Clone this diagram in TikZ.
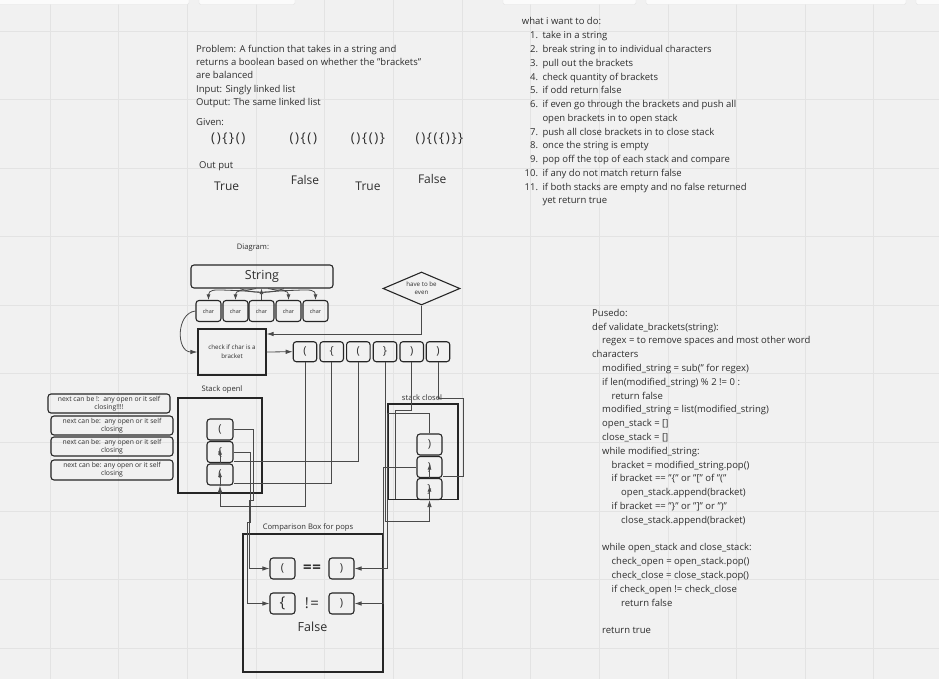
\documentclass[tikz,border=0pt]{standalone}
\usepackage{fontspec}
\setmainfont{Open Sans}
\usetikzlibrary{arrows.meta,shapes.geometric,calc}
\definecolor{bg}{HTML}{F1F1F1}
\definecolor{gridc}{HTML}{E3E3E3}
\definecolor{ink}{HTML}{2E2E2E}
\definecolor{edge}{HTML}{262626}
\definecolor{wirec}{HTML}{4A4A4A}
\newcommand\myfs[2]{\fontsize{#1}{#2}\selectfont}
\newcommand\bk{\kern1.6pt}
\begin{document}
\begin{tikzpicture}[x=1pt,y=-1pt,
  txt/.style={anchor=base west,inner sep=0,text=ink,font=\myfs{9.5}{12}},
  num/.style={anchor=base east,inner sep=0,text=ink,font=\myfs{9.5}{12}},
  lbl/.style={inner sep=0,text=ink,font=\myfs{7.6}{9}},
  big/.style={anchor=base,inner sep=0,text=ink,font=\myfs{12}{14}},
  brk/.style={anchor=base,inner sep=0,text=ink,font=\myfs{13.5}{15}},
  box/.style={draw=edge,line width=1.1pt,rounded corners=3pt,inner sep=0,text=ink},
  sq/.style={draw=edge,line width=1.1pt,inner sep=0,text=ink},
  note/.style={box,minimum width=122pt,minimum height=19pt,align=center,font=\myfs{6.8}{8}},
  wire/.style={draw=wirec,line width=0.8pt},
  arr/.style={-{Latex[length=7pt,width=4.5pt]}},
  sarr/.style={-{Latex[length=5.5pt,width=4pt]}},
]
% background and grid
\fill[bg] (0,0) rectangle (939,679);
\useasboundingbox (0,0) rectangle (939,679);
\foreach \i in {0,...,12} \draw[gridc,line width=0.7pt] ({50+68.65*\i},0) -- ++(0,679);
\foreach \j in {0,...,9} \draw[gridc,line width=0.7pt] (0,{31+68.55*\j}) -- ++(939,0);
\foreach \a/\b in {-6/189,199/295,503/636,646/906,916/960}
  \draw[draw=gridc,fill=white!75!bg,rounded corners=2pt] (\a,-8) rectangle (\b,4.5);

% problem block
\node[txt] (p1) at (196,52.3) {Problem: A function that takes in a string and};
\node[txt] (p2) at (196,65.6) {returns a boolean based on whether the "brackets"};
\node[txt] (p3) at (196,79) {are balanced};
\node[txt] (p4) at (196,92.4) {Input: Singly linked list};
\node[txt] (p5) at (196,105.8) {Output: The same linked list};
\node[txt] (p6) at (196,126) {Given:};
\node[brk] (g1) at (228.3,143) {(\bk)\bk\{\bk\}\bk(\bk)};
\node[brk] (g2) at (303.3,143) {(\bk)\bk\{\bk(\bk)};
\node[brk] (g3) at (368,143) {(\bk)\bk\{\bk(\bk)\bk\}};
\node[brk] (g4) at (439.5,143) {(\bk)\bk\{\bk(\bk\{\bk)\bk\}\bk\}};
\node[txt] (op) at (199,168.3) {Out put};
\node[big] (o1) at (226.7,190) {True};
\node[big] (o2) at (305,185) {False};
\node[big] (o3) at (368,190) {True};
\node[big] (o4) at (432.2,183.6) {False};

% what i want to do
\node[txt] (w0) at (521.7,25) {what i want to do:};
\node[num] (n1) at (538.3,39) {1.};   \node[txt] (t1) at (542.3,39) {take in a string};
\node[num] (n2) at (538.3,52.7) {2.}; \node[txt] (t2) at (542.3,52.7) {break string in to individual characters};
\node[num] (n3) at (538.3,66.5) {3.}; \node[txt] (t3) at (542.3,66.5) {pull out the brackets};
\node[num] (n4) at (538.3,80.2) {4.}; \node[txt] (t4) at (542.3,80.2) {check quantity of brackets};
\node[num] (n5) at (538.3,94) {5.};   \node[txt] (t5) at (542.3,94) {if odd return false};
\node[num] (n6) at (538.3,107.7) {6.};\node[txt] (t6) at (542.3,107.7) {if even go through the brackets and push all};
\node[txt] (t6b) at (542.3,121.5) {open brackets in to open stack};
\node[num] (n7) at (538.3,135.2) {7.};\node[txt] (t7) at (542.3,135.2) {push all close brackets in to close stack};
\node[num] (n8) at (538.3,149) {8.};  \node[txt] (t8) at (542.3,149) {once the string is empty};
\node[num] (n9) at (538.3,162.7) {9.};\node[txt] (t9) at (542.3,162.7) {pop off the top of each stack and compare};
\node[num] (n10) at (538.3,176.5) {10.};\node[txt] (t10) at (542.3,176.5) {if any do not match return false};
\node[num] (n11) at (538.3,190.2) {11.};\node[txt] (t11) at (542.3,190.2) {if both stacks are empty and no false returned};
\node[txt] (t11b) at (542.3,204) {yet return true};

% pseudocode
\node[txt] (q0) at (592,316.3) {Pusedo:};
\node[txt] (q1) at (592,330.1) {def validate\_brackets(string):};
\node[txt] (q2) at (602,343.9) {regex = to remove spaces and most other word};
\node[txt] (q3) at (592,357.7) {characters};
\node[txt] (q4) at (602,371.5) {modified\_string = sub(" for regex)};
\node[txt] (q5) at (602,385.3) {if len(modified\_string) \% 2 != 0 :};
\node[txt] (q6) at (611.5,399.1) {return false};
\node[txt] (q7) at (602,412.9) {modified\_string = list(modified\_string)};
\node[txt] (q8) at (602,426.7) {open\_stack = []};
\node[txt] (q9) at (602,440.5) {close\_stack = []};
\node[txt] (q10) at (602,454.3) {while modified\_string:};
\node[txt] (q11) at (611.5,468.1) {bracket = modified\_string.pop()};
\node[txt] (q12) at (611.5,481.9) {if bracket == "\{" or "[" of "("};
\node[txt] (q13) at (621,495.7) {open\_stack.append(bracket)};
\node[txt] (q14) at (611.5,509.5) {if bracket == "\}" or "]" or ")"};
\node[txt] (q15) at (621,523.3) {close\_stack.append(bracket)};
\node[txt] (q17) at (602,550.9) {while open\_stack and close\_stack:};
\node[txt] (q18) at (611.5,564.7) {check\_open = open\_stack.pop()};
\node[txt] (q19) at (611.5,578.5) {check\_close = close\_stack.pop()};
\node[txt] (q20) at (611.5,592.3) {if check\_open != check\_close};
\node[txt] (q21) at (621,606.1) {return false};
\node[txt] (q23) at (602,633.7) {return true};

% diagram
\node[lbl] (dg) at (253,248) {Diagram:};
\node[box,minimum width=142pt,minimum height=23pt,font=\myfs{12.5}{14}] (str) at (262,276.5) {String};
\foreach \i/\x in {1/208.5,2/235.5,3/261.5,4/288.5,5/315.5}
  \node[box,minimum width=25pt,minimum height=21pt,font=\myfs{5.5}{6}] (c\i) at (\x,311) {char};
\node[draw=edge,line width=1.1pt,diamond,aspect=2.3,minimum width=77pt,minimum height=33pt,inner sep=0,align=center,text=ink,font=\myfs{6.2}{8}] (dia) at (421.5,288.5) {have to be\\even};
\node[sq,minimum width=68pt,minimum height=46pt,align=center,font=\myfs{6.2}{9}] (chk) at (232,352) {check if char is a\\bracket};

\node[box,minimum width=23.5pt,minimum height=20pt,font=\myfs{11}{12}] (b1) at (305,351.7) {(};
\node[box,minimum width=23.5pt,minimum height=20pt,font=\myfs{11}{12}] (b2) at (331.7,351.7) {\{};
\node[box,minimum width=23.5pt,minimum height=20pt,font=\myfs{11}{12}] (b3) at (358.3,351.7) {(};
\node[box,minimum width=23.5pt,minimum height=20pt,font=\myfs{11}{12}] (b4) at (385,351.7) {\}};
\node[box,minimum width=23.5pt,minimum height=20pt,font=\myfs{11}{12}] (b5) at (411.7,351.7) {)};
\node[box,minimum width=23.5pt,minimum height=20pt,font=\myfs{11}{12}] (b6) at (438,351.7) {)};

% open stack
\node[lbl] (ost) at (222,390) {Stack openl};
\node[sq,minimum width=84pt,minimum height=95pt] (os) at (220,445.5) {};
\node[box,minimum width=26pt,minimum height=21pt,font=\myfs{11}{12}] (ob) at (220,429.5) {(};
\node[box,minimum width=26pt,minimum height=21pt,font=\myfs{11}{12}] (om) at (220,452) {\{};
\node[box,minimum width=26pt,minimum height=21pt,font=\myfs{11}{12}] (obb) at (220,474.5) {(};

% notes
\node[note] (m1) at (109,403.5) {next can be !:\ \ any open or it self\\closing!!!!};
\node[note] (m2) at (112,425.5) {next can be:\ \ any open or it self\\closing};
\node[note] (m3) at (112,446.5) {next can be:\ \ any open or it self\\closing};
\node[note,minimum height=20pt] (m4) at (112,470) {next can be: any open or it self\\closing};

% close stack
\node[lbl] (cst) at (422,398) {stack closel};
\node[sq,minimum width=70pt,minimum height=95.5pt] (cs) at (423,451.7) {};
\node[box,minimum width=25pt,minimum height=21pt,font=\myfs{11}{12}] (cb) at (429.5,444.5) {)};
\node[box,minimum width=25pt,minimum height=21pt,font=\myfs{11}{12}] (cm) at (429.5,467) {)};
\node[box,minimum width=25pt,minimum height=21pt,font=\myfs{11}{12}] (cbb) at (429.5,489) {\}};
\coordinate (k5) at (395,499);

% comparison box
\node[lbl] (cmt) at (308,528) {Comparison Box for pops};
\node[sq,minimum width=140pt,minimum height=138pt] (cmp) at (313,603) {};
\node[box,minimum width=25pt,minimum height=21pt,font=\myfs{11}{12}] (cp1) at (282.5,568.5) {(};
\node[box,minimum width=25pt,minimum height=21pt,font=\myfs{11}{12}] (cc1) at (341.5,568.5) {)};
\node[box,minimum width=25pt,minimum height=21pt,font=\myfs{15}{16}] (cp2) at (282.5,603.5) {\{};
\node[box,minimum width=25pt,minimum height=21pt,font=\myfs{11}{12}] (cc2) at (341.5,603.5) {)};
\node[inner sep=0,text=ink,font=\bfseries\myfs{15}{16}] (eq) at (312,568.5) {=\kern0.6pt=};
\node[inner sep=0,text=ink,font=\myfs{15}{16}] (ne) at (312,603.5) {!\kern1.5pt=};
\node[inner sep=0,text=ink,font=\myfs{12.5}{14}] (fl) at (312.5,627) {False};

% connectors: string to chars
\draw[wire,sarr] ($(str.south)+(-6,0)$) .. controls (232,294) and (208.5,285) .. (c1.north);
\draw[wire,sarr] ($(str.south)+(22,0)$) .. controls (258,298) and (235.5,285) .. (c2.north);
\draw[wire,sarr] ($(str.south)+(-22,0)$) .. controls (265,298) and (288.5,285) .. (c4.north);
\draw[wire,sarr] ($(str.south)+(6,0)$) .. controls (292,294) and (315.5,285) .. (c5.north);
\draw[wire,sarr] (c3.north) -- (str.south -| c3.north);

\draw[wire,arr] (c1.west) .. controls (176,313) and (176,352) .. (chk.west);
\draw[wire,arr] (dia.south) |- (chk.east |- 0,334);
\draw[wire,arr] (chk.east) -- (b1.west);

% brackets into stacks
\draw[wire,arr] (b1.south) |- ($(obb.south)+(0,21)$) -- (obb.south);
\draw[wire] (b2.south) |- (obb.east |- 0,483.3);
\draw[wire] (b3.south) |- (om.east |- 0,461.7);
\draw[wire,arr] (b4.south) |- ($(cbb.south)+(0,21)$) -- (cbb.south);
\draw[wire] (b5.south) |- (k5 |- 0,410) -- (k5);
\draw[wire] (b6.south) |- (463,398) |- (cm.east |- 0,476.7);

% inner stack arrows
\draw[wire,sarr] (obb.south) -- ++(0,-14);
\draw[wire,sarr] (om.south) -- ++(0,-14);
\draw[wire,sarr] (cbb.south) -- ++(0,-14);
\draw[wire,sarr] (cm.south) -- ++(0,-14);

% pops into comparison
\draw[wire,arr] (ob.east) -| (253,500) -- (249,500) |- (cp1.west);
\draw[wire,arr] (om.east) -| (250.5,522) -- (247,522) |- (cp2.west);
\draw[wire,arr] (cb.north) |- (387,413) |- (cc1.east);
\draw[wire,arr] (cm.west) -- (383,467) |- (cc2.east);
\end{tikzpicture}
\end{document}
